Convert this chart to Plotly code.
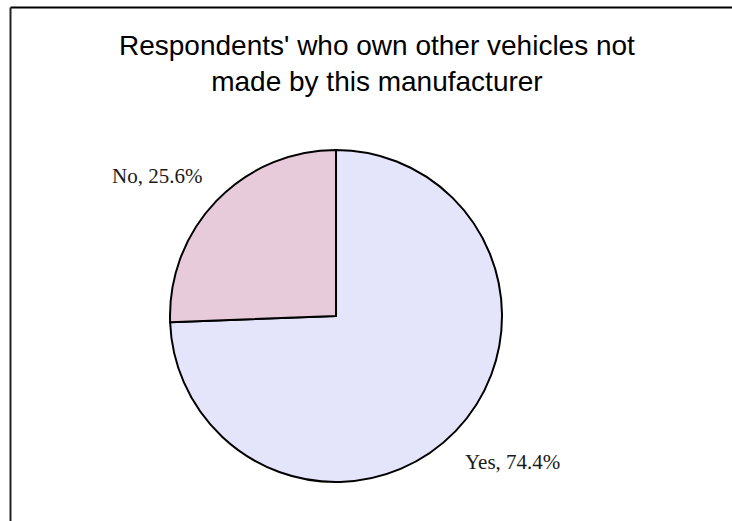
import plotly.graph_objects as go

# Share of respondents owning vehicles from other manufacturers
categories = ["Yes", "No"]
shares = [74.4, 25.6]
slice_colors = ["#E4E4FB", "#E7CBDA"]

title_text = "Respondents' who own other vehicles not<br>made by this manufacturer"

W, H = 732, 521

fig = go.Figure()
fig.add_trace(go.Pie(
    labels=categories,
    values=shares,
    sort=False,
    direction="clockwise",
    rotation=0,
    textinfo="none",
    hoverinfo="label+percent",
    marker=dict(colors=slice_colors, line=dict(color="#000000", width=2)),
    domain=dict(x=[170 / W, 502 / W], y=[1 - 482 / H, 1 - 150 / H]),
    showlegend=False,
))

# Chart title
fig.add_annotation(
    x=377 / W, y=1 - 64 / H, xref="paper", yref="paper",
    text=title_text, showarrow=False,
    xanchor="center", yanchor="middle", align="center",
    font=dict(family="Liberation Sans", size=28, color="#000000"),
)

# Outside labels: category name and share
label_pos = {"No": (157, 176), "Yes": (512, 462)}
for cat, val in zip(categories, shares):
    px, py = label_pos[cat]
    fig.add_annotation(
        x=px / W, y=1 - py / H, xref="paper", yref="paper",
        text=f"{cat}, {val}%", showarrow=False,
        xanchor="center", yanchor="middle",
        font=dict(family="Liberation Serif", size=21, color="#1a1a1a"),
    )

# Chart frame (top and left edges)
fig.add_shape(type="line", xref="paper", yref="paper",
              x0=10.5 / W, x1=1.0, y0=1 - 7.5 / H, y1=1 - 7.5 / H,
              line=dict(color="#000000", width=2))
fig.add_shape(type="line", xref="paper", yref="paper",
              x0=10.5 / W, x1=10.5 / W, y0=1 - 7.5 / H, y1=0,
              line=dict(color="#222222", width=2))

fig.update_layout(
    width=W, height=H,
    margin=dict(l=0, r=0, t=0, b=0),
    paper_bgcolor="#FFFFFF",
    plot_bgcolor="#FFFFFF",
)

fig.write_html("out.html")
